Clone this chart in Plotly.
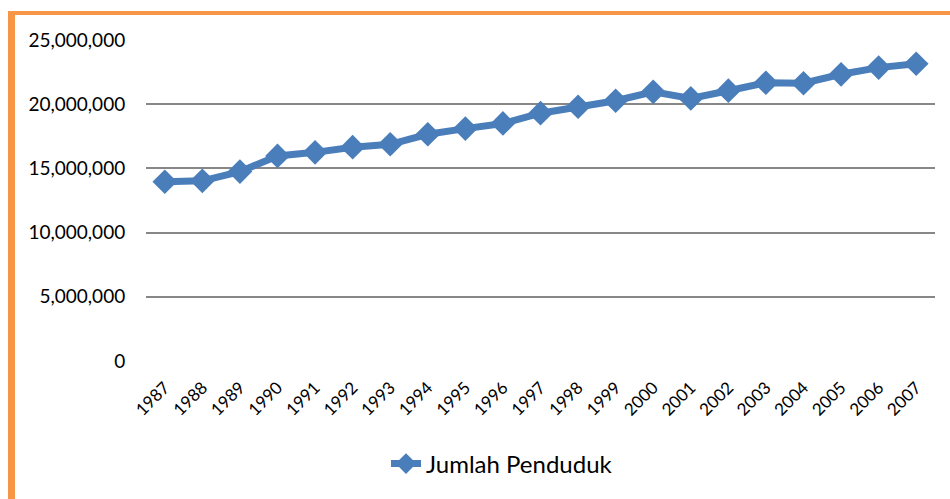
import plotly.graph_objects as go

years = [str(y) for y in range(1987, 2008)]
penduduk = [13960000, 14030000, 14750000, 15970000, 16250000, 16650000, 16880000,
            17660000, 18100000, 18500000, 19300000, 19800000, 20270000, 20960000,
            20450000, 21050000, 21670000, 21630000, 22330000, 22850000, 23150000]
series_name = "Jumlah Penduduk"
y_ticks = [0, 5000000, 10000000, 15000000, 20000000, 25000000]
y_tick_text = ["0", "5,000,000", "10,000,000", "15,000,000", "20,000,000", "25,000,000"]

W, H = 950, 499
L, R, T, B = 146, 935, 40, 361

fig = go.Figure()
fig.add_trace(go.Scatter(
    x=years, y=penduduk, mode="lines+markers", name=series_name,
    line=dict(color="#4A7EBB", width=7),
    marker=dict(symbol="diamond", size=19, color="#4A7EBB"),
))

def px_x(p):
    return (p - L) / (R - L)

def px_y(p):
    return (B - p) / (B - T)

orange = "#F79646"
fig.add_shape(type="rect", xref="paper", yref="paper",
              x0=px_x(8), x1=px_x(15), y0=px_y(H + 5), y1=px_y(11),
              fillcolor=orange, line_width=0, layer="above")
fig.add_shape(type="rect", xref="paper", yref="paper",
              x0=px_x(8), x1=px_x(W + 5), y0=px_y(15), y1=px_y(11),
              fillcolor=orange, line_width=0, layer="above")

fam = "Lato, Open Sans, sans-serif"
font = dict(family=fam, size=19, color="#000000")

fig.update_layout(
    width=W, height=H,
    margin=dict(l=L, r=W - R, t=T, b=H - B),
    paper_bgcolor="white", plot_bgcolor="white",
    font=font,
    showlegend=True,
    legend=dict(orientation="h", x=px_x(502), xanchor="center",
                y=px_y(464), yanchor="middle",
                font=dict(family=fam, size=24, color="#000000")),
    xaxis=dict(type="category", tickangle=-45, showgrid=False,
               showline=False, zeroline=False,
               ticks="outside", ticklen=9, tickcolor="rgba(0,0,0,0)",
               tickfont=dict(family=fam, size=17),
               range=[-0.5, 20.5]),
    yaxis=dict(range=[0, 25000000], tickvals=y_ticks, ticktext=y_tick_text,
               showgrid=True, gridcolor="#878787", gridwidth=2,
               zeroline=False, showline=False,
               ticks="outside", ticklen=16, tickcolor="rgba(0,0,0,0)"),
)

fig.write_html("out.html", config={"displayModeBar": False},
               post_script="document.body.style.margin='0';document.body.style.padding='0';")
